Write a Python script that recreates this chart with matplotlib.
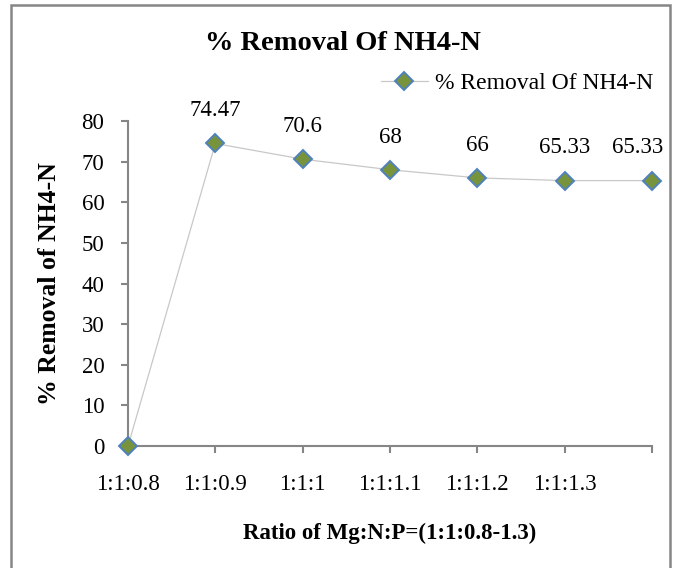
import matplotlib.pyplot as plt
import matplotlib.patches as patches

# данные
ratios = ['1:1:0.8', '1:1:0.9', '1:1:1', '1:1:1.1', '1:1:1.2', '1:1:1.3', '']
removal = [0, 74.47, 70.6, 68, 66, 65.33, 65.33]
labels = ['', '74.47', '70.6', '68', '66', '65.33', '65.33']

plt.rcParams['font.family'] = ['Liberation Serif', 'DejaVu Serif']

fig = plt.figure(figsize=(6.75, 5.68), dpi=100)
ax = fig.add_axes([128 / 675, 1 - 446 / 568, (652 - 128) / 675, (446 - 121) / 568])

x = list(range(len(removal)))
ax.plot(x, removal, color='#c8c8c8', lw=0.9, marker='D', markersize=9,
        markerfacecolor='#77933C', markeredgecolor='#4F81BD', markeredgewidth=1.4,
        label='% Removal Of NH4-N', clip_on=False, zorder=3)

# подписи значений
for xi, yi, t in zip(x, removal, labels):
    if t:
        dx = -10 if xi == x[-1] else 0
        ax.annotate(t, (xi, yi), xytext=(dx, 16), textcoords='offset points',
                    ha='center', va='bottom', fontsize=16.5)

ax.set_xlim(0, 6)
ax.set_ylim(0, 80)
ax.set_yticks(range(0, 81, 10))
ax.set_xticks(x)
ax.set_xticklabels(ratios)

for s in ['top', 'right']:
    ax.spines[s].set_visible(False)
for s in ['left', 'bottom']:
    ax.spines[s].set_color('#868686')
    ax.spines[s].set_linewidth(1.5)
ax.tick_params(axis='both', colors='#868686', width=1.5, length=5, labelsize=16.5,
               labelcolor='black')
ax.tick_params(axis='x', pad=15)
ax.tick_params(axis='y', pad=12)

ax.set_xlabel('Ratio of Mg:N:P=(1:1:0.8-1.3)', fontsize=16.5, fontweight='bold', labelpad=20)
ax.set_ylabel('% Removal of NH4-N', fontsize=18.5, fontweight='bold', labelpad=15)

fig.text(343 / 675, 1 - 44 / 568, '% Removal Of NH4-N', ha='center', va='center',
         fontsize=20.5, fontweight='bold')

ax.legend(loc='center left', bbox_to_anchor=(369 / 675, 1 - 83 / 568),
          bbox_transform=fig.transFigure, frameon=False, fontsize=17,
          handlelength=2.0, borderpad=0, handletextpad=0.3)

# рамка
fig.patches.append(patches.Rectangle((11 / 675, -0.01), (670 - 11) / 675, 1 - 5 / 568 + 0.01,
                                     transform=fig.transFigure, fill=False,
                                     edgecolor='#868686', lw=1.8))

fig.savefig('out.png', dpi=100)
